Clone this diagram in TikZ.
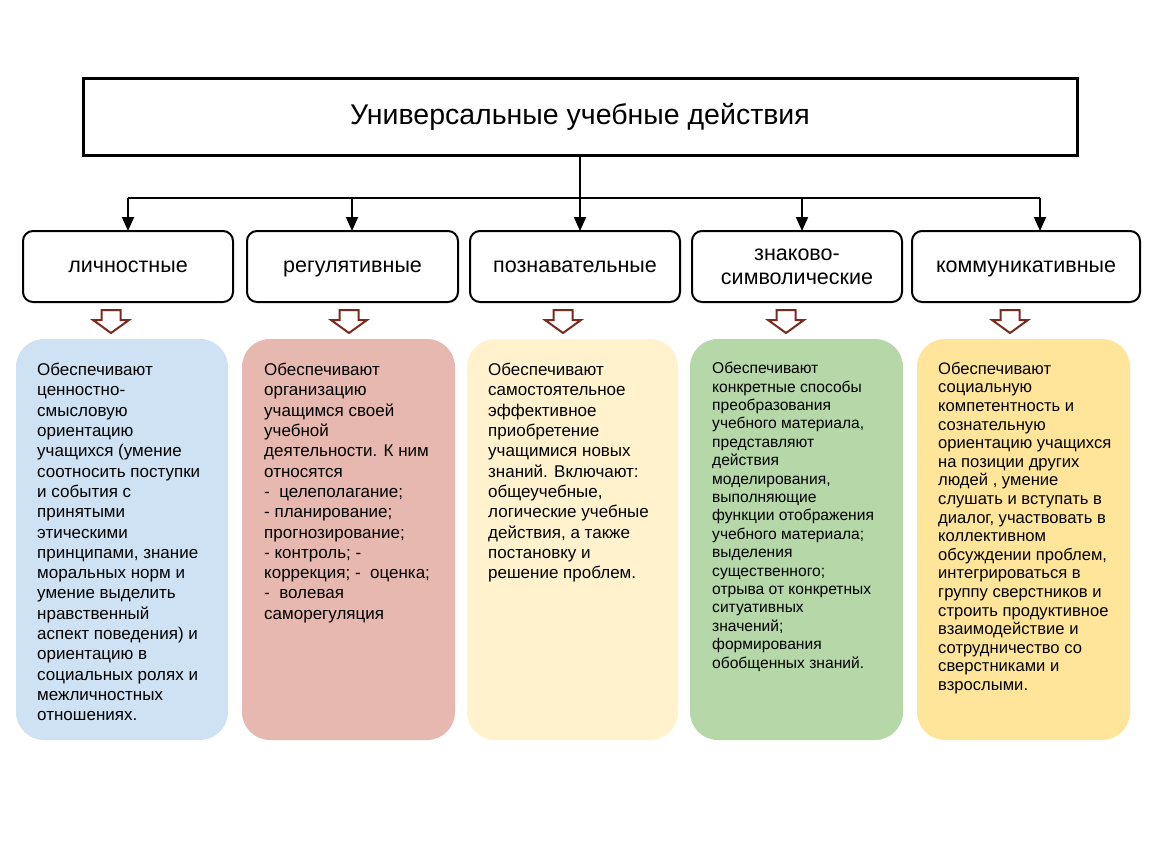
\documentclass[tikz,border=0pt]{standalone}
\usepackage{fontspec}
\setmainfont{Liberation Sans}
\usetikzlibrary{arrows.meta}
\definecolor{cblue}{HTML}{CFE2F3}
\definecolor{cred}{HTML}{E6B8AF}
\definecolor{cyel}{HTML}{FFF2CC}
\definecolor{cgreen}{HTML}{B6D7A8}
\definecolor{cgold}{HTML}{FFE599}
\definecolor{hollowc}{HTML}{7A2B1F}
\begin{document}
\begin{tikzpicture}[x=1pt,y=-1pt,
  catbox/.style={draw, line width=2pt, rounded corners=10pt, minimum width=210pt, minimum height=71pt, align=center, font=\fontsize{21.5}{24}\selectfont},
  oneline/.style={text height=15.5pt, text depth=4.5pt},
  descbox/.style={rounded corners=28pt, minimum width=212pt, minimum height=401pt, inner sep=0pt},
  desctext/.style={anchor=north west, inner sep=0pt, align=left, font=\fontsize{17}{20.3}\selectfont},
  desctextg/.style={anchor=north west, inner sep=0pt, align=left, font=\fontsize{15.6}{18.4}\selectfont},
  desctexty/.style={anchor=north west, inner sep=0pt, align=left, font=\fontsize{16.6}{18.6}\selectfont},
  conn/.style={line width=1.8pt, -{Triangle[length=14pt,width=12pt]}},
  hollow/.pic={\draw[hollowc, line width=2pt, fill=white, line join=miter] (-9.5,0) -- (9.5,0) -- (9.5,10) -- (18,10) -- (0,23) -- (-18,10) -- (-9.5,10) -- cycle;}
]
\useasboundingbox (0,0) rectangle (1150,864);
\fill[white] (0,0) rectangle (1150,864);

\node[draw, line width=3pt, minimum width=994pt, minimum height=76pt, text height=20.5pt, text depth=6pt, font=\fontsize{28.5}{32}\selectfont] (top) at (580,117) {Универсальные учебные действия};

\node[catbox, oneline] (c1) at (128,266.5) {личностные};
\node[catbox, oneline, minimum width=211pt] (c2) at (352.5,266.5) {регулятивные};
\node[catbox, oneline] (c3) at (575,266.5) {познавательные};
\node[catbox] (c4) at (797,266.5) {знаково-\\символические};
\node[catbox, oneline, minimum width=228pt] (c5) at (1026,266.5) {коммуникативные};

\coordinate (bus) at (580,198);
\draw[line width=1.8pt] (top.south) -- (bus);
\draw[line width=1.8pt] (128,198) -- (1040,198);
\draw[conn] (128,198) -- (128,231);
\draw[conn] (352,198) -- (352,231);
\draw[conn] (bus) -- (580,231);
\draw[conn] (802,198) -- (802,231);
\draw[conn] (1040,198) -- (1040,231);

\pic at (111,310) {hollow};
\pic at (349,310) {hollow};
\pic at (563,310) {hollow};
\pic at (786,310) {hollow};
\pic at (1010,310) {hollow};

\node[descbox, fill=cblue] (d1) at (122,539.5) {};
\node[descbox, fill=cred, minimum width=213pt] (d2) at (348.5,539.5) {};
\node[descbox, fill=cyel, minimum width=211pt] (d3) at (572.5,539.5) {};
\node[descbox, fill=cgreen, minimum width=213pt] (d4) at (796.5,539.5) {};
\node[descbox, fill=cgold, minimum width=213pt] (d5) at (1023.5,539.5) {};

\node[desctext] (t1) at (37,363) {Обеспечивают\\ценностно-\\смысловую\\ориентацию\\учащихся (умение\\соотносить поступки\\и события с\\принятыми\\этическими\\принципами, знание\\моральных норм и\\умение выделить\\нравственный\\аспект поведения) и\\ориентацию в\\социальных ролях и\\межличностных\\отношениях.};
\node[desctext] (t2) at (264,363) {Обеспечивают\\организацию\\учащимся своей\\учебной\\деятельности. К ним\\относятся\\-\ \ целеполагание;\\- планирование;\\прогнозирование;\\- контроль; -\\коррекция; -\ \ оценка;\\-\ \ волевая\\саморегуляция};
\node[desctext] (t3) at (488,363) {Обеспечивают\\самостоятельное\\эффективное\\приобретение\\учащимися новых\\знаний. Включают:\\общеучебные,\\логические учебные\\действия, а также\\постановку и\\решение проблем.};
\node[desctextg] (t4) at (712,362) {Обеспечивают\\конкретные способы\\преобразования\\учебного материала,\\представляют\\действия\\моделирования,\\выполняющие\\функции отображения\\учебного материала;\\выделения\\существенного;\\отрыва от конкретных\\ситуативных\\значений;\\формирования\\обобщенных знаний.};
\node[desctexty] (t5) at (938,362) {Обеспечивают\\социальную\\компетентность и\\сознательную\\ориентацию учащихся\\на позиции других\\людей , умение\\слушать и вступать в\\диалог, участвовать в\\коллективном\\обсуждении проблем,\\интегрироваться в\\группу сверстников и\\строить продуктивное\\взаимодействие и\\сотрудничество со\\сверстниками и\\взрослыми.};
\end{tikzpicture}
\end{document}
